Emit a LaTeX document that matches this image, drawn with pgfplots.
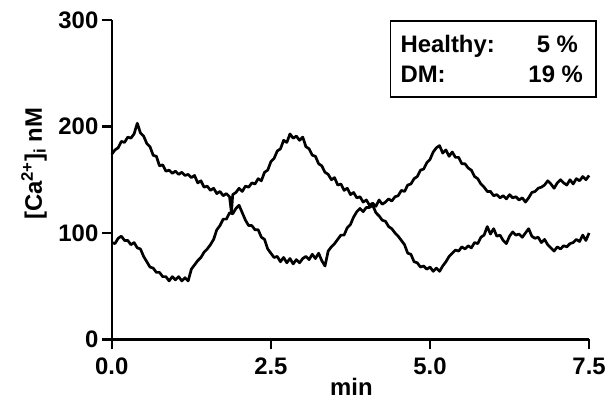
\documentclass[border=0pt]{standalone}
\usepackage{pgfplots}
\pgfplotsset{compat=1.18}
\usepackage{pgfplotstable}
\usepackage{fontspec}
\setmainfont{Liberation Sans}

% upper trace (starts near 175 nM)
\pgfplotstableread{
t v
0.00 174
0.05 178
0.10 180
0.15 186
0.20 185
0.25 190
0.30 189
0.35 193
0.40 203
0.45 194
0.50 191
0.55 184
0.60 181
0.65 173
0.70 172
0.75 163
0.80 164
0.85 158
0.90 159
0.95 156
1.00 158
1.05 155
1.10 157
1.15 154
1.20 155
1.25 152
1.30 154
1.35 147
1.40 149
1.45 143
1.50 144
1.55 140
1.60 142
1.65 137
1.70 139
1.75 135
1.80 137
1.85 134
1.88 119
1.90 136
1.95 138
2.00 142
2.05 139
2.10 144
2.15 143
2.20 147
2.25 146
2.30 151
2.35 149
2.40 157
2.45 159
2.50 167
2.55 170
2.60 177
2.65 179
2.70 187
2.75 185
2.80 193
2.85 189
2.90 191
2.95 187
3.00 190
3.05 181
3.10 179
3.15 173
3.20 172
3.25 165
3.30 163
3.35 157
3.40 155
3.45 150
3.50 152
3.55 145
3.60 146
3.65 140
3.70 142
3.75 136
3.80 138
3.85 133
3.90 134
3.95 129
4.00 131
4.05 126
4.10 128
4.15 125
4.20 131
4.25 127
4.30 129
4.35 132
4.40 130
4.45 134
4.50 135
4.55 140
4.60 139
4.65 145
4.70 146
4.75 151
4.80 153
4.85 159
4.90 160
4.95 166
5.00 169
5.05 176
5.10 180
5.15 182
5.20 175
5.25 178
5.30 172
5.35 176
5.40 171
5.45 171
5.50 165
5.55 165
5.60 161
5.65 159
5.70 153
5.75 151
5.80 146
5.85 143
5.90 139
5.95 139
6.00 135
6.05 136
6.10 133
6.15 135
6.20 132
6.25 136
6.30 133
6.35 134
6.40 131
6.45 133
6.50 129
6.55 133
6.60 138
6.65 139
6.70 142
6.75 143
6.80 145
6.85 149
6.90 146
6.95 142
7.00 147
7.05 150
7.10 147
7.15 145
7.20 150
7.25 146
7.30 151
7.35 149
7.40 153
7.45 150
7.50 154
}\tracehi

% lower trace (starts near 92 nM)
\pgfplotstableread{
t v
0.00 91
0.05 90
0.10 95
0.15 97
0.20 93
0.25 93
0.30 89
0.35 91
0.40 86
0.45 85
0.50 78
0.55 73
0.60 68
0.65 67
0.70 63
0.75 63
0.80 59
0.85 59
0.90 55
0.95 59
1.00 56
1.05 59
1.10 55
1.15 58
1.20 55
1.25 66
1.30 70
1.35 74
1.40 77
1.45 82
1.50 85
1.55 89
1.60 94
1.65 103
1.70 107
1.75 113
1.80 113
1.85 119
1.90 118
1.95 123
2.00 126
2.05 119
2.10 112
2.15 107
2.20 107
2.25 103
2.30 103
2.35 96
2.40 94
2.45 85
2.50 81
2.55 77
2.60 78
2.65 73
2.70 77
2.75 72
2.80 76
2.85 71
2.90 75
2.95 72
3.00 76
3.05 78
3.10 75
3.15 80
3.20 76
3.25 81
3.30 74
3.35 69
3.40 83
3.45 87
3.50 90
3.55 94
3.60 98
3.65 98
3.70 105
3.75 108
3.80 115
3.85 120
3.90 123
3.95 120
4.00 124
4.05 124
4.10 126
4.15 119
4.20 116
4.25 112
4.30 111
4.35 106
4.40 104
4.45 100
4.50 97
4.55 93
4.60 89
4.65 81
4.70 80
4.75 73
4.80 72
4.85 68
4.90 69
4.95 66
5.00 68
5.05 64
5.10 67
5.15 64
5.20 69
5.25 73
5.30 78
5.35 81
5.40 84
5.45 83
5.50 87
5.55 85
5.60 88
5.65 86
5.70 91
5.75 90
5.80 96
5.85 98
5.90 106
5.95 99
6.00 104
6.05 97
6.10 98
6.15 93
6.20 90
6.25 97
6.30 101
6.35 98
6.40 99
6.45 96
6.50 100
6.55 104
6.60 97
6.65 95
6.70 96
6.75 91
6.80 94
6.85 89
6.90 86
6.95 83
7.00 87
7.05 85
7.10 88
7.15 87
7.20 90
7.25 91
7.30 94
7.35 92
7.40 98
7.45 93
7.50 100
}\tracelo

\begin{document}
\begin{tikzpicture}
  \begin{axis}[
      width=478bp, height=320bp, scale only axis,
      xmin=0, xmax=7.5, ymin=0, ymax=300,
      axis lines=left,
      axis line style={-, line width=2.6bp},
      every tick/.style={black, line width=2.6bp},
      tick align=outside, major tick length=10bp,
      xtick={0,2.5,5,7.5}, xticklabels={0.0,2.5,5.0,7.5},
      ytick={0,100,200,300}, yticklabels={0,100,200,300},
      tick label style={font=\fontsize{24}{28}\selectfont\bfseries},
      xticklabel style={yshift=-5bp},
      xlabel={min},
      ylabel={[Ca\textsuperscript{2+}]\textsubscript{i} nM},
      label style={font=\fontsize{24}{28}\selectfont\bfseries},
      xlabel style={at={(axis description cs:0.502,-0.176)}, anchor=base},
      ylabel style={at={(axis description cs:-0.163,0.55)}, anchor=center},
      clip=false
    ]
    \addplot[black, line width=2.7bp, line join=round] table[x=t, y=v] {\tracehi};
    \addplot[black, line width=2.7bp, line join=round] table[x=t, y=v] {\tracelo};

    \draw[black, line width=1.3bp] (axis cs:4.378,227.8) rectangle (axis cs:7.61,299.1);
    \node[anchor=base west, font=\fontsize{24}{28}\selectfont\bfseries, inner sep=0pt] at (axis cs:4.535,269) {Healthy:};
    \node[anchor=base west, font=\fontsize{24}{28}\selectfont\bfseries, inner sep=0pt] at (axis cs:4.535,241) {DM:};
    \node[anchor=base east, font=\fontsize{24}{28}\selectfont\bfseries, inner sep=0pt] at (axis cs:7.328,269) {5 \%};
    \node[anchor=base east, font=\fontsize{24}{28}\selectfont\bfseries, inner sep=0pt] at (axis cs:7.406,241) {19 \%};

    % page frame matching the reference proportions
    \path (axis cs:-1.757,-57.2) rectangle (axis cs:7.798,318.75);
  \end{axis}
\end{tikzpicture}
\end{document}
